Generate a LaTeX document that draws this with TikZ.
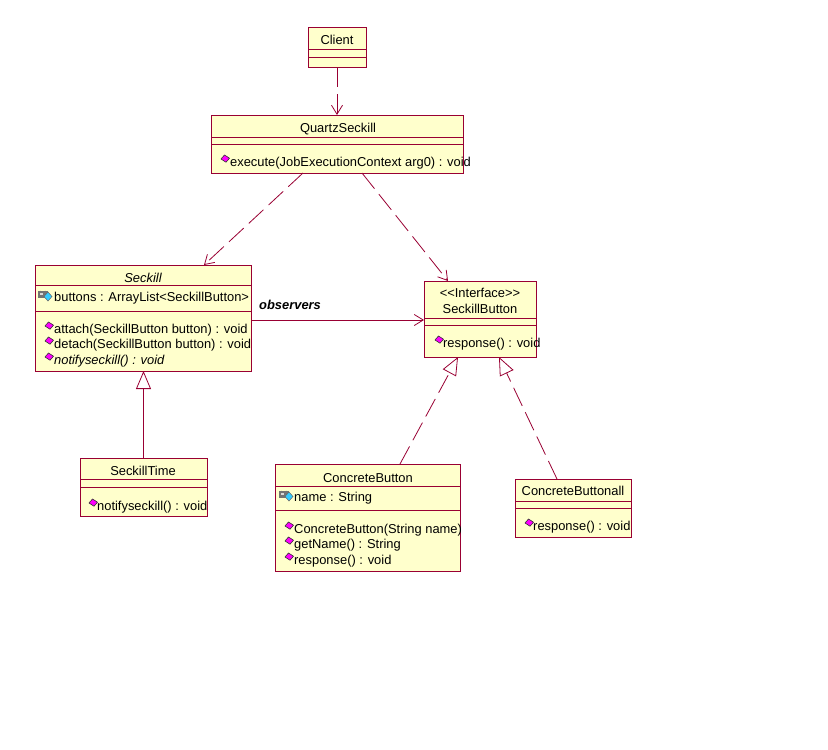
\documentclass[tikz,border=0pt]{standalone}
\usepackage{fontspec}
\setmainfont{Liberation Sans}
\usetikzlibrary{arrows.meta}
\definecolor{umlline}{HTML}{990033}
\definecolor{umlfill}{HTML}{FFFFCC}
\definecolor{methpink}{HTML}{FF00FF}
\definecolor{attrcyan}{HTML}{33CCFF}
\begin{document}
\begin{tikzpicture}[x=1pt,y=-1pt,
  box/.style={draw=umlline, fill=umlfill, line width=0.8pt, anchor=north west, inner sep=0pt, outer sep=0pt},
  sep/.style={draw=umlline, line width=0.8pt},
  txt/.style={inner sep=0pt, anchor=base, font=\fontsize{12.9}{15}\selectfont},
  ltxt/.style={txt, anchor=base west},
  dep/.style={draw=umlline, line width=0.8pt, dash pattern=on 20pt off 7pt, -{Straight Barb[length=9pt,width=11pt,line width=0.8pt]}},
  assoc/.style={draw=umlline, line width=0.8pt, -{Straight Barb[length=9pt,width=11pt,line width=0.8pt]}},
  inh/.style={draw=umlline, line width=0.8pt, -{Triangle[open, length=18pt, width=15pt, line width=0.8pt, fill=white]}},
  real/.style={inh, dash pattern=on 20pt off 7pt}
]
\useasboundingbox (0,0) rectangle (828,750);
\fill[white] (0,0) rectangle (828,750);

% method icon
\newcommand{\methicon}[2]{%
  \fill[methpink, draw=black!80, line width=0.6pt] (#1,#2) -- ++(3.5,-4) -- ++(5,3.2) -- ++(-3.5,4) -- cycle;}
% attribute icon
\newcommand{\attricon}[2]{%
  \draw[black!65, line width=1.2pt] (#1+3,#2-5) arc (180:0:2.8 and 3.2);
  \fill[black!55] (#1+1,#2-5.5) rectangle ++(10,7);
  \fill[black!15] (#1+3,#2-3.5) rectangle ++(2.5,2.5);
  \fill[attrcyan, draw=black!60, line width=0.5pt] (#1+7,#2+0.5) -- ++(4,-4.5) -- ++(4,4.5) -- ++(-4,4.5) -- cycle;}

% Client
\node[box, minimum width=58pt, minimum height=40pt] (client) at (308,27) {};
\draw[sep] (308,49) -- (366,49);
\draw[sep] (308,57) -- (366,57);
\node[txt] (clientT) at (337,44) {Client};

% QuartzSeckill
\node[box, minimum width=252pt, minimum height=58pt] (quartz) at (211,115) {};
\draw[sep] (211,137) -- (463,137);
\draw[sep] (211,144) -- (463,144);
\node[txt] (quartzT) at (338,132) {QuartzSeckill};
\methicon{221}{159}
\node[ltxt] (quartzM) at (230,166) {execute(JobExecutionContext arg0) : void};

% Seckill
\node[box, minimum width=216pt, minimum height=106pt] (seckill) at (35,265) {};
\draw[sep] (35,285) -- (251,285);
\draw[sep] (35,311) -- (251,311);
\node[txt] (seckillT) at (143,282) {\itshape Seckill};
\attricon{37}{296}
\node[ltxt] (seckillA) at (54,301) {buttons : ArrayList{<}SeckillButton{>}};
\methicon{45}{326}
\node[ltxt] (seckillM1) at (54,333) {attach(SeckillButton button) : void};
\methicon{45}{341}
\node[ltxt] (seckillM2) at (54,348) {detach(SeckillButton button) : void};
\methicon{45}{357}
\node[ltxt] (seckillM3) at (54,364) {\itshape notifyseckill() : void};

% SeckillButton
\node[box, minimum width=112pt, minimum height=76pt] (button) at (424,281) {};
\draw[sep] (424,318) -- (536,318);
\draw[sep] (424,325) -- (536,325);
\node[txt] (buttonS) at (480,297) {{<}{<}Interface{>}{>}};
\node[txt] (buttonT) at (480,313) {SeckillButton};
\methicon{435}{340}
\node[ltxt] (buttonM) at (443,347) {response() : void};

% SeckillTime
\node[box, minimum width=127pt, minimum height=58pt] (time) at (80,458) {};
\draw[sep] (80,479) -- (207,479);
\draw[sep] (80,487) -- (207,487);
\node[txt] (timeT) at (143,475) {SeckillTime};
\methicon{89}{503}
\node[ltxt] (timeM) at (97,510) {notifyseckill() : void};

% ConcreteButton
\node[box, minimum width=185pt, minimum height=107pt] (concrete) at (275,464) {};
\draw[sep] (275,486) -- (460,486);
\draw[sep] (275,510) -- (460,510);
\node[txt] (concreteT) at (368,482) {ConcreteButton};
\attricon{278}{496}
\node[ltxt] (concreteA) at (294,501) {name : String};
\methicon{285}{526}
\node[ltxt] (concreteM1) at (294,533) {ConcreteButton(String name)};
\methicon{285}{541}
\node[ltxt] (concreteM2) at (294,548) {getName() : String};
\methicon{285}{557}
\node[ltxt] (concreteM3) at (294,564) {response() : void};

% ConcreteButtonall
\node[box, minimum width=116pt, minimum height=58pt] (all) at (515,479) {};
\draw[sep] (515,501) -- (631,501);
\draw[sep] (515,508) -- (631,508);
\node[txt] (allT) at (573,495) {ConcreteButtonall};
\methicon{525}{523}
\node[ltxt] (allM) at (533,530) {response() : void};

% Connectors
\draw[dep] (client.south) -- (client.south |- quartz.north);
\draw[dep] ([xshift=92pt]quartz.south west) -- ([xshift=169pt]seckill.north west);
\draw[dep] ([xshift=151pt]quartz.south west) -- ([xshift=24pt]button.north west);
\draw[assoc] ([yshift=-55pt]seckill.north east) -- ([yshift=-39pt]button.north west);
\node[txt, anchor=base west, font=\fontsize{12.9}{15}\selectfont\bfseries\itshape] (obs) at (259,309) {observers};
\draw[inh] (time.north) -- (time.north |- seckill.south);
\draw[real] ([xshift=125pt]concrete.north west) -- ([xshift=34pt]button.south west);
\draw[real] ([xshift=42pt]all.north west) -- ([xshift=75pt]button.south west);
\end{tikzpicture}
\end{document}
